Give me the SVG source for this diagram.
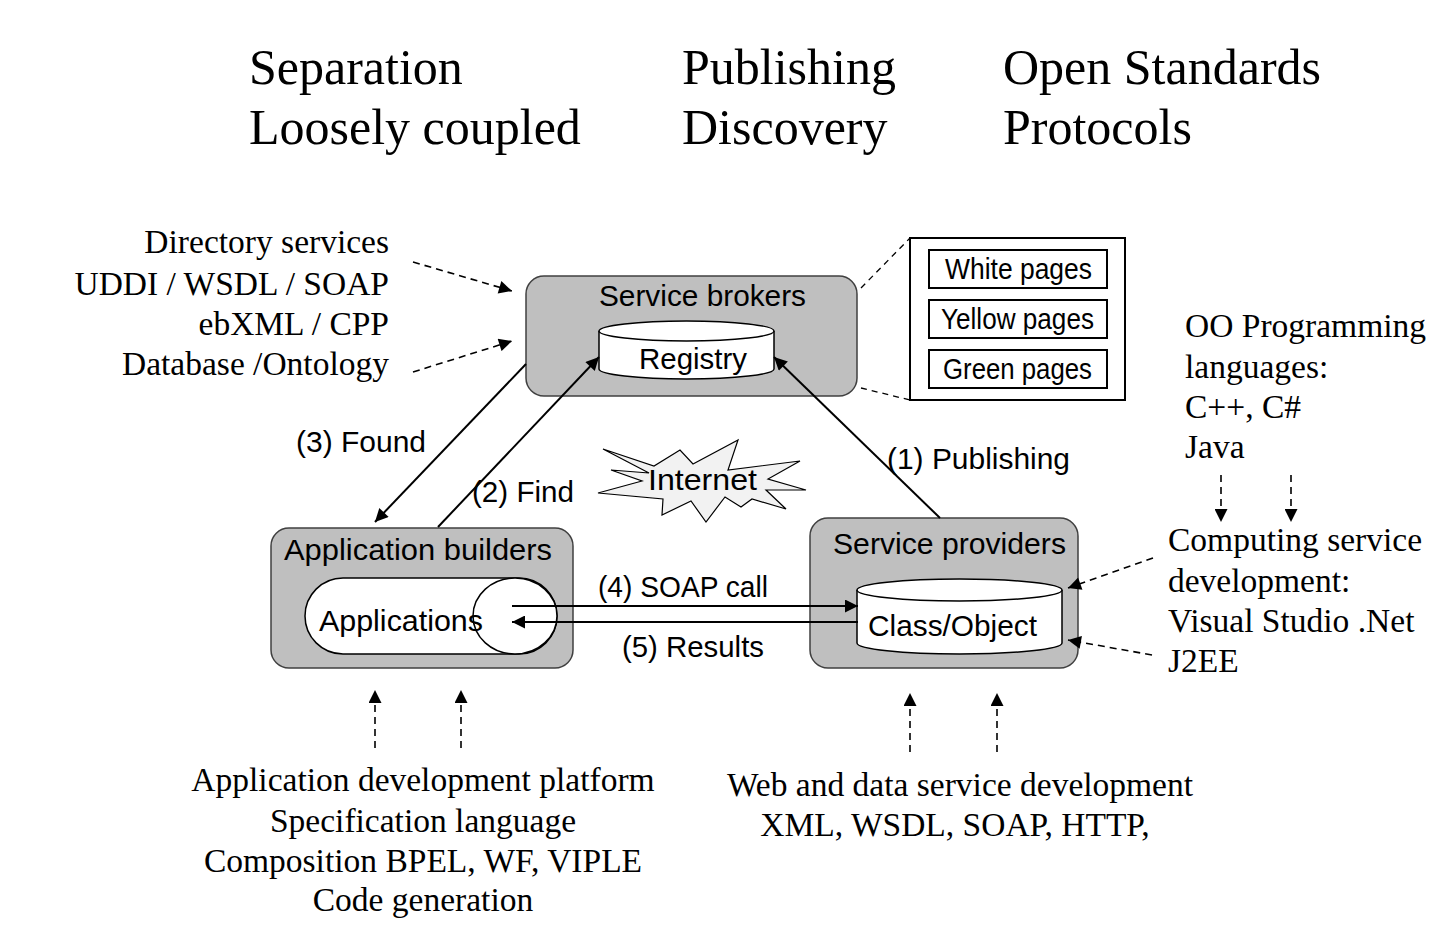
<svg xmlns="http://www.w3.org/2000/svg" width="1456" height="930" viewBox="0 0 1456 930">
<style>
.serif{font-family:"Liberation Serif","Times New Roman",serif;fill:#000}
.h{font-size:50px}
.s{font-size:33.5px}
.sans{font-family:"Liberation Sans",Arial,sans-serif;font-size:29px;fill:#000}
.box{fill:#BFBFBF;stroke:#404040;stroke-width:1.5}
.wht{fill:#fff;stroke:#000;stroke-width:1.5}
.ln{stroke:#000;stroke-width:2;fill:none}
.dl{stroke:#000;stroke-width:1.6;fill:none;stroke-dasharray:7,5}
</style>
<defs>
<marker id="ab" viewBox="0 0 10 10" refX="10" refY="5" markerWidth="15" markerHeight="13" markerUnits="userSpaceOnUse" orient="auto"><path d="M0,0 L10,5 L0,10 z" fill="#000"/></marker>
</defs>
<rect width="1456" height="930" fill="#fff"/>

<g id="headers">
<text class="serif h" x="249" y="84">Separation</text>
<text class="serif h" x="249" y="144">Loosely coupled</text>
<text class="serif h" x="682" y="84">Publishing</text>
<text class="serif h" x="682" y="144">Discovery</text>
<text class="serif h" x="1003" y="84">Open Standards</text>
<text class="serif h" x="1003" y="144">Protocols</text>
</g>

<g id="directory-notes" text-anchor="end">
<text class="serif s" x="389" y="253">Directory services</text>
<text class="serif s" x="389" y="295">UDDI / WSDL / SOAP</text>
<text class="serif s" x="389" y="335">ebXML / CPP</text>
<text class="serif s" x="389" y="375">Database /Ontology</text>
</g>

<g id="oo-notes">
<text class="serif s" x="1185" y="337">OO Programming</text>
<text class="serif s" x="1185" y="378">languages:</text>
<text class="serif s" x="1185" y="418">C++, C#</text>
<text class="serif s" x="1185" y="458">Java</text>
</g>

<g id="computing-notes">
<text class="serif s" x="1168" y="551">Computing service</text>
<text class="serif s" x="1168" y="592">development:</text>
<text class="serif s" x="1168" y="632">Visual Studio .Net</text>
<text class="serif s" x="1168" y="672">J2EE</text>
</g>

<g id="app-dev-notes" text-anchor="middle">
<text class="serif s" x="423" y="791">Application development platform</text>
<text class="serif s" x="423" y="832">Specification language</text>
<text class="serif s" x="423" y="872">Composition BPEL, WF, VIPLE</text>
<text class="serif s" x="423" y="911">Code generation</text>
</g>

<g id="web-dev-notes" text-anchor="middle">
<text class="serif s" x="960" y="796">Web and data service development</text>
<text class="serif s" x="955" y="836">XML, WSDL, SOAP, HTTP,</text>
</g>

<g id="service-brokers">
<rect class="box" x="526" y="276" width="331" height="120" rx="18"/>
<text class="sans" x="599" y="306" textLength="207" lengthAdjust="spacingAndGlyphs">Service brokers</text>
</g>
<g id="registry">
<path class="wht" d="M599,331 L599,369 A87.5,10 0 0 0 774,369 L774,331"/>
<ellipse class="wht" cx="686.5" cy="331" rx="87.5" ry="10"/>
<text class="sans" x="639" y="369" textLength="108" lengthAdjust="spacingAndGlyphs">Registry</text>
</g>

<g id="pages">
<rect x="910" y="238" width="215" height="162" fill="#fff" stroke="#000" stroke-width="2"/>
<rect x="929" y="250" width="178" height="38" fill="#fff" stroke="#000" stroke-width="2"/>
<text class="sans" x="945" y="279" textLength="147" lengthAdjust="spacingAndGlyphs" font-size="26">White pages</text>
<rect x="929" y="300" width="178" height="38" fill="#fff" stroke="#000" stroke-width="2"/>
<text class="sans" x="941" y="329" textLength="153" lengthAdjust="spacingAndGlyphs" font-size="26">Yellow pages</text>
<rect x="929" y="350" width="178" height="38" fill="#fff" stroke="#000" stroke-width="2"/>
<text class="sans" x="943" y="379" textLength="149" lengthAdjust="spacingAndGlyphs" font-size="26">Green pages</text>
</g>

<g id="app-builders">
<rect class="box" x="271" y="528" width="302" height="140" rx="18"/>
<text class="sans" x="284" y="560" textLength="268" lengthAdjust="spacingAndGlyphs">Application builders</text>
</g>
<g id="applications">
<rect class="wht" x="305" y="578" width="252" height="76" rx="38"/>
<ellipse class="wht" cx="515" cy="616" rx="42" ry="38" fill="none"/>
<text class="sans" x="319" y="631" textLength="164" lengthAdjust="spacingAndGlyphs">Applications</text>
</g>

<g id="service-providers">
<rect class="box" x="810" y="518" width="268" height="150" rx="18"/>
<text class="sans" x="833" y="554" textLength="233" lengthAdjust="spacingAndGlyphs">Service providers</text>
</g>
<g id="class-object">
<path class="wht" d="M857,590 L857,643 A102.5,11 0 0 0 1062,643 L1062,590"/>
<ellipse class="wht" cx="959.5" cy="590" rx="102.5" ry="11"/>
<text class="sans" x="868" y="636" textLength="169" lengthAdjust="spacingAndGlyphs">Class/Object</text>
</g>

<g id="internet">
<polygon points="603,449 654,466 680,450 693,464 738,440 728,470 800,461 768,479 806,490 766,490 786,509 752,499 741,507 725,497 706,522 691,501 662,515 663,499 598,493 642,481 611,470 649,473" fill="#F2F2F2" stroke="#000" stroke-width="1.2"/>
<text class="sans" x="648" y="490" textLength="109" lengthAdjust="spacingAndGlyphs">Internet</text>
</g>

<g id="connectors">
<line class="ln" x1="526" y1="364" x2="375" y2="522" marker-end="url(#ab)"/>
<line class="ln" x1="438" y1="527" x2="599" y2="357" marker-end="url(#ab)"/>
<line class="ln" x1="940" y1="518" x2="774" y2="357" marker-end="url(#ab)"/>
<line class="ln" x1="512" y1="606" x2="858" y2="606" marker-end="url(#ab)"/>
<line class="ln" x1="858" y1="622" x2="512" y2="622" marker-end="url(#ab)"/>
<line class="dl" x1="413" y1="262" x2="512" y2="291" marker-end="url(#ab)"/>
<line class="dl" x1="413" y1="372" x2="512" y2="341" marker-end="url(#ab)"/>
<line class="dl" x1="1221" y1="475" x2="1221" y2="522" marker-end="url(#ab)"/>
<line class="dl" x1="1291" y1="475" x2="1291" y2="522" marker-end="url(#ab)"/>
<line class="dl" x1="1153" y1="558" x2="1068" y2="588" marker-end="url(#ab)"/>
<line class="dl" x1="1152" y1="655" x2="1068" y2="640" marker-end="url(#ab)"/>
<line class="dl" x1="375" y1="748" x2="375" y2="690" marker-end="url(#ab)"/>
<line class="dl" x1="461" y1="748" x2="461" y2="690" marker-end="url(#ab)"/>
<line class="dl" x1="910" y1="752" x2="910" y2="693" marker-end="url(#ab)"/>
<line class="dl" x1="997" y1="752" x2="997" y2="693" marker-end="url(#ab)"/>
<line stroke="#000" stroke-width="1.3" stroke-dasharray="6,5" x1="861" y1="288" x2="910" y2="238"/>
<line stroke="#000" stroke-width="1.3" stroke-dasharray="6,5" x1="861" y1="388" x2="910" y2="400"/>
</g>

<g id="labels">
<text class="sans" x="296" y="452" textLength="130" lengthAdjust="spacingAndGlyphs">(3) Found</text>
<text class="sans" x="472" y="502" textLength="102" lengthAdjust="spacingAndGlyphs">(2) Find</text>
<text class="sans" x="887" y="469" textLength="183" lengthAdjust="spacingAndGlyphs">(1) Publishing</text>
<text class="sans" x="598" y="597" textLength="170" lengthAdjust="spacingAndGlyphs">(4) SOAP call</text>
<text class="sans" x="622" y="657" textLength="142" lengthAdjust="spacingAndGlyphs">(5) Results</text>
</g>
</svg>
